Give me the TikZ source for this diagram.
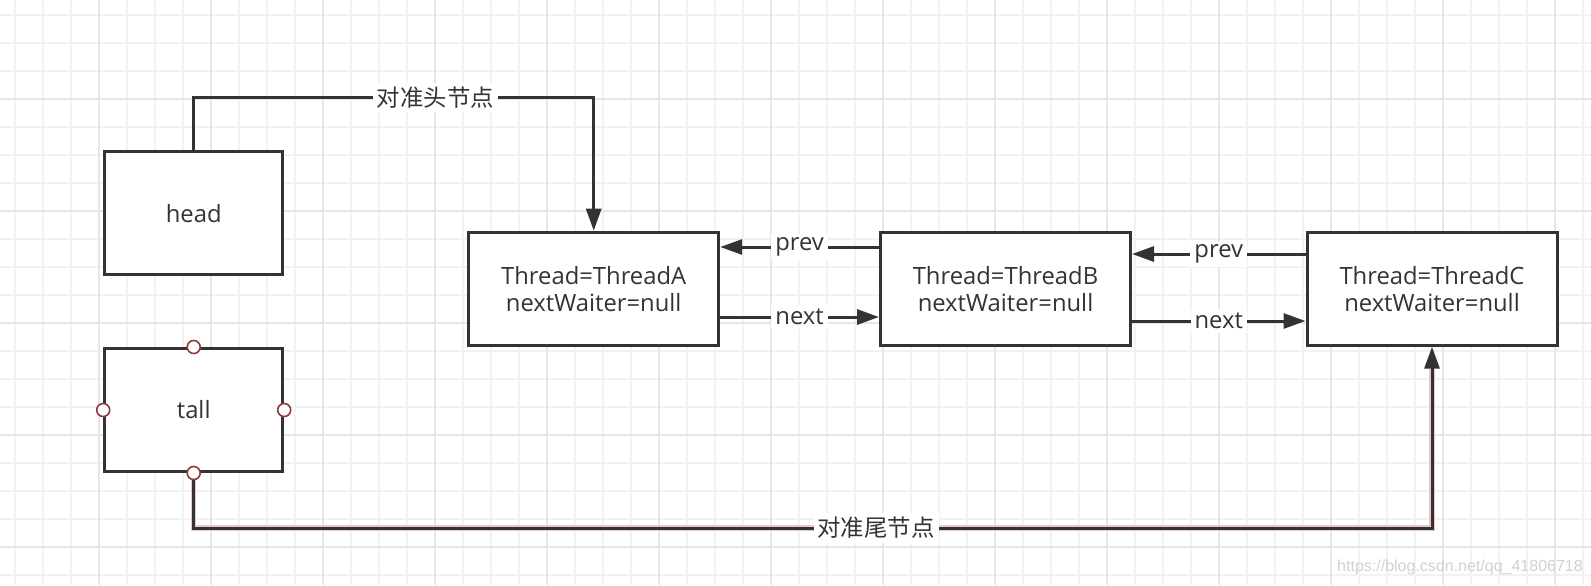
\documentclass[tikz,border=0pt]{standalone}
\usepackage{fontspec}
\setmainfont{Open Sans}
\newfontfamily\cjkfont{Noto Sans CJK SC}
\newfontfamily\markfont{Liberation Sans}
\usetikzlibrary{arrows.meta, positioning}
\definecolor{ink}{HTML}{333333}
\definecolor{gridminor}{HTML}{F2F2F2}
\definecolor{gridmajor}{HTML}{E6E6E6}
\definecolor{pinred}{HTML}{8E3B3B}
\definecolor{glowred}{HTML}{EBC8C8}
\tikzset{%
	every box/.style={
		draw=ink,
		line width=1.5pt,
		fill=white,
		text=ink,
		align=center,
		inner sep=0pt,
		font=\fontsize{11.9}{13.5}\selectfont
	},
	ptr box/.style={every box, minimum width=89pt, minimum height=61.5pt},
	waiter box/.style={every box, minimum width=125pt, minimum height=56.5pt},
	link/.style={draw=ink, line width=1.5pt, -{Triangle[length=11pt, width=7.5pt]}},
	link label/.style={fill=white, text=ink, inner sep=2pt, font=\fontsize{11.9}{13.5}\selectfont},
	cn label/.style={link label, font=\fontsize{11.7}{14}\cjkfont},
	pin/.style={circle, draw=pinred, line width=0.8pt, fill=white, minimum size=6.5pt, inner sep=0pt},
}

\begin{document}
\begin{tikzpicture}[x=0.5pt, y=-0.5pt]
	
	\useasboundingbox (0,0) rectangle (1591,585);
	\fill[white] (0,0) rectangle (1591,585);
	\foreach \k in {0,...,56}
		\draw[gridminor, line width=1pt] ({15+28*\k},0) -- ({15+28*\k},585);
	\foreach \k in {0,...,20}
		\draw[gridminor, line width=1pt] (0,{15+28*\k}) -- (1591,{15+28*\k});
	\foreach \k in {0,...,13}
		\draw[gridmajor, line width=1pt] ({99+112*\k},0) -- ({99+112*\k},585);
	\foreach \k in {0,...,4}
		\draw[gridmajor, line width=1pt] (0,{99+112*\k}) -- (1591,{99+112*\k});
	
	\node[ptr box] (head) at (193.7,213.3) {head};
	\node[ptr box] (tall) at (193.7,410) {tall};
	
	\node[waiter box] (A) at (593.7,288.7) {Thread=ThreadA\\nextWaiter=null};
	\node[waiter box] (B) at (1005.5,288.7) {Thread=ThreadB\\nextWaiter=null};
	\node[waiter box] (C) at (1432,288.7) {Thread=ThreadC\\nextWaiter=null};
	
	\draw[link] (head.north) -- ++(0,-53) -| (A.north) node[cn label, pos=0.302] (headlbl) {对准头节点};
	
	\draw[link] ([yshift=20.85pt]B.west) -- ([yshift=20.85pt]A.east) node[link label, midway] (prevAB) {prev};
	\draw[link] ([yshift=-14.15pt]A.east) -- ([yshift=-14.15pt]B.west) node[link label, midway] (nextAB) {next};
	\draw[link] ([yshift=17.35pt]C.west) -- ([yshift=17.35pt]B.east) node[link label, midway] (prevBC) {prev};
	\draw[link] ([yshift=-16.15pt]B.east) -- ([yshift=-16.15pt]C.west) node[link label, midway] (nextBC) {next};
	
	\draw[glowred, line width=2.6pt, shorten >=11pt] (tall.south) -- ++(0,55) -| (C.south);
	\draw[link] (tall.south) -- ++(0,55) -| (C.south) node[cn label, pos=0.2755] (taillbl) {对准尾节点};
	
	\foreach \a in {north,south,east,west}
		\node[pin] (pin-\a) at (tall.\a) {};
	
	\node[font=\markfont\fontsize{8}{10}\selectfont, text=black!18] (mark) at (1460,567) {https://blog.csdn.net/qq\_41806718};
	
\end{tikzpicture}
\end{document}
